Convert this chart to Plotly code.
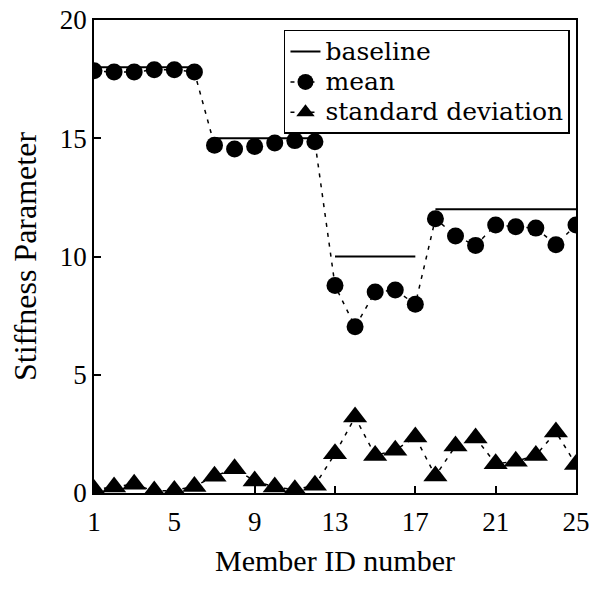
import plotly.graph_objects as go

# Member IDs and stiffness results
members = list(range(1, 26))
baseline = [18, 18, 18, 18, 18, 18,
            15, 15, 15, 15, 15, 15,
            10, 10, 10, 10, 10,
            12, 12, 12, 12, 12, 12, 12, 12]
mean = [17.85, 17.8, 17.8, 17.9, 17.9, 17.8,
        14.7, 14.55, 14.65, 14.8, 14.9, 14.85,
        8.77, 7.03, 8.5, 8.58, 7.98,
        11.6, 10.87, 10.47, 11.33, 11.26, 11.2, 10.5, 11.33]
std_dev = [0.15, 0.25, 0.37, 0.08, 0.11, 0.28,
           0.71, 1.03, 0.51, 0.25, 0.14, 0.33,
           1.66, 3.21, 1.59, 1.81, 2.37,
           0.72, 1.99, 2.33, 1.24, 1.34, 1.59, 2.58, 1.2]

x_ticks = [1, 5, 9, 13, 17, 21, 25]
y_ticks = [0, 5, 10, 15, 20]

# Baseline drawn as one flat segment per group of equal values
bx, by = [], []
start = 0
for i in range(1, len(members) + 1):
    if i == len(members) or baseline[i] != baseline[start]:
        if bx:
            bx.append(None)
            by.append(None)
        bx += [members[start], members[i - 1]]
        by += [baseline[start], baseline[i - 1]]
        start = i

FONT = "Liberation Serif"


def label(t):
    return f'<span style="font-family:DejaVu Serif;font-size:25px">{t}</span>'


fig = go.Figure()
fig.add_trace(go.Scatter(
    x=bx, y=by, mode="lines", name=label("baseline"),
    line=dict(color="black", width=2),
))
fig.add_trace(go.Scatter(
    x=members, y=mean, mode="lines+markers", name=label("mean"),
    line=dict(color="black", width=1.5, dash="4px,6px"),
    marker=dict(symbol="circle", size=17, color="black"),
))
fig.add_trace(go.Scatter(
    x=members, y=std_dev, mode="lines+markers", name=label("standard deviation"),
    line=dict(color="black", width=1.5, dash="4px,6px"),
    marker=dict(symbol="triangle-up", size=21, color="black"),
))

axis_common = dict(
    showgrid=False, zeroline=False, showline=True, linecolor="black",
    linewidth=1.5, mirror=True, ticks="inside", ticklen=7, tickwidth=1.5,
    tickcolor="black", tickfont=dict(family=FONT, size=27, color="black"),
    automargin=False, ticklabeloverflow="allow",
)

fig.update_xaxes(
    range=[1, 25], tickvals=x_ticks, ticktext=[str(v) for v in x_ticks],
    ticklabelstandoff=4,
    title=dict(text="Member ID number", font=dict(family=FONT, size=30, color="black"),
               standoff=14),
    **axis_common,
)
fig.update_yaxes(
    range=[0, 20], tickvals=y_ticks, ticktext=[str(v) for v in y_ticks],
    ticklabelstandoff=0,
    title=dict(text="Stiffness Parameter", font=dict(family=FONT, size=32, color="black"),
               standoff=14),
    **axis_common,
)

fig.update_layout(
    width=589, height=594,
    margin=dict(l=94, r=13, t=20, b=101),
    paper_bgcolor="white", plot_bgcolor="white",
    font=dict(family=FONT, color="black"),
    legend=dict(
        x=0.9875, y=0.979, xanchor="right", yanchor="top",
        bgcolor="white", bordercolor="black", borderwidth=1.5,
        font=dict(family=FONT, size=21, color="black"),
    ),
)

fig.write_html("out.html")
